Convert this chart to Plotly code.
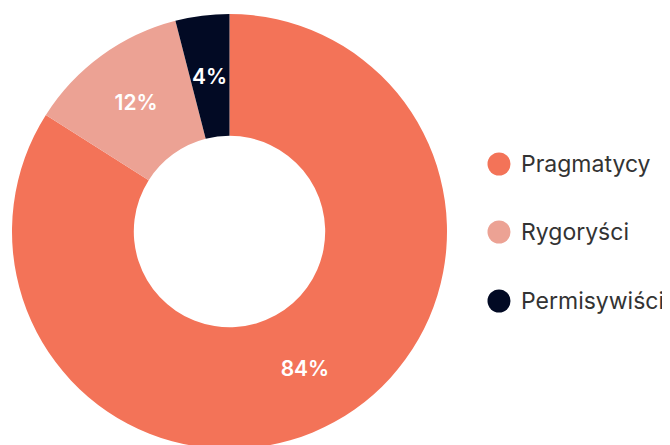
import math
import plotly.graph_objects as go

categories = ["Pragmatycy", "Rygoryści", "Permisywiści"]
values = [84, 12, 4]
colors = ["#F37358", "#ECA294", "#020A24"]

W, H = 670, 445
# page has an 8px body margin, so figure coordinates are offset by 8px
OFF = 8
HOLE = 0.44
top, bot = 14 - OFF, 4
dom_x = [(12 - OFF) / W, (447 - OFF) / W]
plot_h = H - top - bot

total = sum(values)
small = [v / total < 0.05 for v in values]
label_font = dict(family="Inter", size=21, color="white", weight=600)

fig = go.Figure()
fig.add_trace(go.Pie(
    labels=categories,
    values=values,
    hole=HOLE,
    sort=False,
    direction="clockwise",
    rotation=0,
    marker=dict(colors=colors, line=dict(width=0)),
    texttemplate=["" if s else "%{value}%" for s in small],
    textposition="inside",
    insidetextorientation="horizontal",
    textfont=label_font,
    showlegend=False,
    domain=dict(x=dom_x, y=[0, 1]),
    hoverinfo="label+percent",
))

# Labels for thin slices: place at the middle of the ring, at the slice's mid-angle
shapes = []
annotations = []
R = min((dom_x[1] - dom_x[0]) * W, plot_h) / 2
cx = (dom_x[0] + dom_x[1]) / 2 * W
cum = 0
for v, s in zip(values, small):
    mid = 90 - 360 * (cum + v / 2) / total
    cum += v
    if not s:
        continue
    r = R * (1 + HOLE) / 2
    px = cx + r * math.cos(math.radians(mid))
    py = plot_h / 2 - r * math.sin(math.radians(mid))
    annotations.append(dict(
        x=px / W, y=1 - py / plot_h, xref="paper", yref="paper",
        text=f"{v}%", showarrow=False, xanchor="center", yanchor="middle",
        font=label_font,
    ))

# Custom legend (circle markers) built from the category list
legend_y = [164, 232, 301]
for cat, col, yp in zip(categories, colors, legend_y):
    yy = 1 - (yp - OFF - top) / plot_h
    shapes.append(dict(
        type="circle", xref="paper", yref="paper",
        xsizemode="pixel", ysizemode="pixel",
        xanchor=(499 - OFF) / W, yanchor=yy,
        x0=-11.5, x1=11.5, y0=-11.5, y1=11.5,
        fillcolor=col, line=dict(width=0),
    ))
    annotations.append(dict(
        x=(519 - OFF) / W, y=yy, xref="paper", yref="paper",
        text=cat, showarrow=False, xanchor="left", yanchor="middle",
        font=dict(family="Inter", size=23, color="#333333"),
    ))

fig.update_layout(
    width=W, height=H,
    margin=dict(l=0, r=0, t=top, b=bot),
    paper_bgcolor="white",
    plot_bgcolor="white",
    shapes=shapes,
    annotations=annotations,
    showlegend=False,
)

fig.write_html("out.html")
